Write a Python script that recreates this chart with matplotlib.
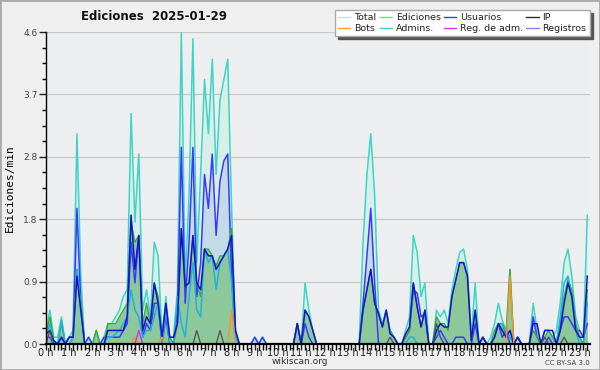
import matplotlib
matplotlib.use("Agg")
import matplotlib.pyplot as plt
from matplotlib.lines import Line2D
from matplotlib.ticker import MultipleLocator, FixedLocator
import numpy as np

# 10-minute samples, 00:00 .. 23:20 (edits per minute)
total = [0.2, 0.5, 0.1, 0.1, 0.4, 0.0,
         0.1, 0.2, 3.1, 1.0, 0.0, 0.1,
         0.0, 0.2, 0.0, 0.1, 0.3, 0.3,
         0.4, 0.5, 0.7, 0.8, 3.4, 1.8,
         2.8, 0.5, 0.8, 0.4, 1.5, 1.3,
         0.1, 0.7, 0.1, 0.1, 0.8, 4.6,
         0.9, 2.2, 4.5, 1.2, 2.5, 3.9,
         3.1, 4.2, 2.5, 3.6, 3.9, 4.2,
         2.0, 0.2, 0.0, 0.0, 0.0, 0.0,
         0.1, 0.0, 0.1, 0.0, 0.0, 0.0,
         0.0, 0.0, 0.0, 0.0, 0.0, 0.3,
         0.0, 0.9, 0.5, 0.2, 0.0, 0.0,
         0.0, 0.0, 0.0, 0.0, 0.0, 0.0,
         0.0, 0.0, 0.0, 0.0, 1.5, 2.5,
         3.1, 2.2, 0.5, 0.3, 0.5, 0.2,
         0.1, 0.0, 0.0, 0.2, 0.4, 1.6,
         1.35, 0.7, 0.9, 0.0, 0.0, 0.5,
         0.4, 0.5, 0.3, 0.8, 1.1, 1.35,
         1.4, 1.1, 0.1, 0.9, 0.0, 0.1,
         0.0, 0.1, 0.3, 0.6, 0.35, 0.2,
         1.1, 0.0, 0.1, 0.0, 0.0, 0.0,
         0.6, 0.2, 0.0, 0.2, 0.2, 0.1,
         0.2, 0.6, 1.2, 1.4, 1.0, 0.4,
         0.2, 0.1, 1.9]

registros = [0.1, 0.1, 0.0, 0.0, 0.1, 0.0,
             0.1, 0.1, 2.0, 0.6, 0.0, 0.1,
             0.0, 0.0, 0.0, 0.1, 0.1, 0.1,
             0.1, 0.1, 0.2, 0.3, 1.5, 0.9,
             1.6, 0.1, 0.3, 0.2, 0.6, 0.6,
             0.0, 0.4, 0.0, 0.0, 0.5, 2.9,
             0.6, 1.5, 2.9, 0.7, 1.2, 2.5,
             2.0, 2.8, 1.6, 2.4, 2.7, 2.8,
             1.0, 0.1, 0.0, 0.0, 0.0, 0.0,
             0.1, 0.0, 0.1, 0.0, 0.0, 0.0,
             0.0, 0.0, 0.0, 0.0, 0.0, 0.3,
             0.0, 0.3, 0.1, 0.0, 0.0, 0.0,
             0.0, 0.0, 0.0, 0.0, 0.0, 0.0,
             0.0, 0.0, 0.0, 0.0, 0.6, 1.3,
             2.0, 0.9, 0.0, 0.0, 0.0, 0.0,
             0.0, 0.0, 0.0, 0.1, 0.2, 0.8,
             0.75, 0.4, 0.45, 0.0, 0.0, 0.1,
             0.2, 0.1, 0.0, 0.0, 0.1, 0.1,
             0.1, 0.0, 0.0, 0.3, 0.0, 0.1,
             0.0, 0.0, 0.1, 0.3, 0.1, 0.2,
             0.0, 0.0, 0.1, 0.0, 0.0, 0.0,
             0.4, 0.1, 0.0, 0.0, 0.1, 0.0,
             0.0, 0.2, 0.4, 0.4, 0.3, 0.2,
             0.2, 0.1, 0.3]

usuarios = [0.15, 0.2, 0.05, 0.0, 0.1, 0.0,
            0.1, 0.1, 1.0, 0.5, 0.0, 0.0,
            0.0, 0.0, 0.0, 0.0, 0.2, 0.2,
            0.2, 0.2, 0.2, 0.4, 1.9, 1.1,
            1.6, 0.2, 0.4, 0.3, 0.9, 0.6,
            0.1, 0.6, 0.1, 0.1, 0.3, 1.7,
            0.85, 0.9, 1.6, 0.9, 0.8, 1.4,
            1.3, 1.3, 1.1, 1.2, 1.3, 1.4,
            1.6, 0.2, 0.0, 0.0, 0.0, 0.0,
            0.0, 0.0, 0.0, 0.0, 0.0, 0.0,
            0.0, 0.0, 0.0, 0.0, 0.0, 0.3,
            0.0, 0.5, 0.4, 0.2, 0.0, 0.0,
            0.0, 0.0, 0.0, 0.0, 0.0, 0.0,
            0.0, 0.0, 0.0, 0.0, 0.5, 0.8,
            1.1, 0.6, 0.45, 0.25, 0.5, 0.15,
            0.1, 0.0, 0.0, 0.15, 0.25, 0.9,
            0.55, 0.25, 0.5, 0.0, 0.0, 0.2,
            0.3, 0.25, 0.25, 0.7, 0.95, 1.2,
            1.2, 1.0, 0.05, 0.5, 0.0, 0.1,
            0.0, 0.0, 0.1, 0.3, 0.2, 0.1,
            0.2, 0.0, 0.1, 0.0, 0.0, 0.0,
            0.3, 0.3, 0.0, 0.2, 0.2, 0.2,
            0.0, 0.2, 0.6, 0.9, 0.7, 0.2,
            0.1, 0.1, 1.0]

ediciones = [0.15, 0.4, 0.05, 0.0, 0.3, 0.0,
             0.0, 0.1, 1.1, 0.6, 0.0, 0.0,
             0.0, 0.2, 0.0, 0.0, 0.3, 0.3,
             0.3, 0.4, 0.5, 0.6, 1.8, 1.5,
             1.6, 0.3, 0.6, 0.3, 0.9, 0.7,
             0.1, 0.6, 0.1, 0.0, 0.3, 1.7,
             0.85, 0.9, 1.6, 0.9, 0.7, 1.4,
             1.4, 1.3, 1.15, 1.3, 1.3, 1.4,
             1.7, 0.2, 0.0, 0.0, 0.0, 0.0,
             0.0, 0.0, 0.0, 0.0, 0.0, 0.0,
             0.0, 0.0, 0.0, 0.0, 0.0, 0.3,
             0.0, 0.5, 0.4, 0.2, 0.0, 0.0,
             0.0, 0.0, 0.0, 0.0, 0.0, 0.0,
             0.0, 0.0, 0.0, 0.0, 0.5, 0.8,
             1.1, 0.6, 0.45, 0.25, 0.5, 0.2,
             0.1, 0.0, 0.0, 0.1, 0.2, 0.9,
             0.55, 0.25, 0.5, 0.0, 0.0, 0.4,
             0.3, 0.3, 0.2, 0.7, 0.95, 1.2,
             1.2, 1.0, 0.05, 0.5, 0.0, 0.0,
             0.0, 0.0, 0.2, 0.3, 0.3, 0.1,
             1.1, 0.0, 0.0, 0.0, 0.0, 0.0,
             0.2, 0.1, 0.0, 0.1, 0.2, 0.1,
             0.0, 0.3, 0.7, 0.95, 0.8, 0.3,
             0.1, 0.0, 0.8]

admins = [0.1, 0.3, 0.0, 0.0, 0.35, 0.0,
          0.0, 0.1, 1.1, 0.5, 0.0, 0.0,
          0.0, 0.0, 0.0, 0.0, 0.1, 0.1,
          0.15, 0.2, 0.3, 0.4, 0.8, 0.5,
          0.4, 0.1, 0.2, 0.2, 0.4, 0.6,
          0.0, 0.5, 0.0, 0.0, 0.7, 0.3,
          0.1, 0.7, 1.2, 0.5, 0.4, 1.4,
          1.2, 1.3, 0.8, 1.2, 1.3, 1.4,
          0.9, 0.1, 0.0, 0.0, 0.0, 0.0,
          0.0, 0.0, 0.0, 0.0, 0.0, 0.0,
          0.0, 0.0, 0.0, 0.0, 0.0, 0.0,
          0.0, 0.0, 0.0, 0.0, 0.0, 0.0,
          0.0, 0.0, 0.0, 0.0, 0.0, 0.0,
          0.0, 0.0, 0.0, 0.0, 0.0, 0.0,
          0.0, 0.0, 0.0, 0.0, 0.0, 0.0,
          0.0, 0.0, 0.0, 0.0, 0.1, 0.1,
          0.0, 0.0, 0.0, 0.0, 0.0, 0.2,
          0.1, 0.0, 0.0, 0.0, 0.0, 0.0,
          0.0, 0.0, 0.0, 0.0, 0.0, 0.0,
          0.0, 0.0, 0.1, 0.3, 0.3, 0.2,
          0.1, 0.0, 0.0, 0.0, 0.0, 0.0,
          0.0, 0.0, 0.0, 0.0, 0.0, 0.0,
          0.0, 0.4, 0.9, 1.0, 0.7, 0.2,
          0.0, 0.0, 0.6]

ip = [0.0] * 141
for k, v in {1: 0.2, 39: 0.2, 45: 0.2, 89: 0.1, 101: 0.3, 102: 0.1,
             129: 0.1, 134: 0.1}.items():
    ip[k] = v

bots = [0.0] * 141
for k, v in {23: 0.1, 30: 0.1, 48: 0.5, 120: 1.0}.items():
    bots[k] = v

reg_adm = [0.0] * 141
for k, v in {24: 0.2}.items():
    reg_adm[k] = v

hours = np.arange(len(total)) / 6.0
hour_labels = ["%d h" % h for h in range(24)]
# column-wise order so the two legend rows read like the original
legend_names = ["Total", "Bots", "Ediciones", "Admins.",
                "Usuarios", "Reg. de adm.", "IP", "Registros"]
legend_colors = ["#aee6e2", "#ffa030", "#8ccf90", "#40c8e0",
                 "#3c3cf0", "#d040e0", "#303030", "#8080ff"]

fig = plt.figure(figsize=(6, 3.7), dpi=100, facecolor="#efefef")
ax = fig.add_axes([46 / 600, 26 / 370, 544 / 600, 312 / 370])
ax.set_facecolor("#eceef0")

ax.fill_between(hours, total, color="#d6efe9", lw=0)
ax.fill_between(hours, registros, color="#c3dbe6", lw=0)
ax.fill_between(hours, ediciones, color="#8dc89b", lw=0)

ax.plot(hours, total, color="#3fd4c4", lw=1.1)
ax.plot(hours, registros, color="#3a3aff", lw=1.1)
ax.plot(hours, ediciones, color="#3aaa3a", lw=1.0)
ax.plot(hours, admins, color="#22b0e0", lw=1.1)
ax.plot(hours, usuarios, color="#1414c8", lw=1.1)
ax.plot(hours, ip, color="#505050", lw=0.9)
ax.plot(hours, bots, color="#ff9020", lw=1.0)
ax.plot(hours, reg_adm, color="#cc33dd", lw=1.0)

ax.set_xlim(0, 23.45)
ax.set_ylim(0, 4.6)
ax.xaxis.set_major_locator(FixedLocator(range(24)))
ax.set_xticklabels(hour_labels)
ax.xaxis.set_minor_locator(MultipleLocator(1 / 6))
yt = [0, 0.92, 1.84, 2.76, 3.68, 4.6]
ax.yaxis.set_major_locator(FixedLocator(yt))
ax.set_yticklabels(["0.0", "0.9", "1.8", "2.8", "3.7", "4.6"])
ax.yaxis.set_minor_locator(MultipleLocator(0.23))
ax.grid(axis="y", color="#c8c8c8", lw=0.9)
ax.set_axisbelow(True)

for s in ["top", "right"]:
    ax.spines[s].set_visible(False)
ax.spines["left"].set_linewidth(1.0)
ax.spines["bottom"].set_linewidth(1.6)
ax.tick_params(axis="x", which="major", length=4, width=1, labelsize=7,
               pad=-1, colors="#222222")
ax.tick_params(axis="x", which="minor", length=4, width=1)
ax.tick_params(axis="y", which="major", length=5, width=1, labelsize=6.5,
               pad=1, colors="#222222")
ax.tick_params(axis="y", which="minor", length=3, width=1)
for lab in ax.get_yticklabels():
    lab.set_color("#444444")

ax.set_ylabel("Ediciones/min", family="DejaVu Sans Mono", fontsize=8,
              labelpad=6)

fig.text(0.257, 0.955, "Ediciones  2025-01-29", fontsize=8.5,
         fontweight="bold", ha="center", va="center", color="#111111")
fig.text(0.5, 0.022, "wikiscan.org", fontsize=6.5, ha="center",
         va="center", color="#333333")
fig.text(0.983, 0.02, "CC BY-SA 3.0", fontsize=5, ha="right",
         va="center", color="#444444")

handles = [Line2D([], [], color=c, lw=1) for c in legend_colors]
leg = fig.legend(handles, legend_names, ncol=4, loc="upper right",
                 bbox_to_anchor=(0.983, 0.973), fontsize=6.8, frameon=True,
                 fancybox=False, shadow={"color": "#555555", "alpha": 1},
                 handlelength=1.3, handletextpad=0.4, columnspacing=0.35,
                 labelspacing=0.2, borderpad=0.35, borderaxespad=0,
                 edgecolor="#aaaaaa")
leg.get_frame().set_facecolor("white")
for t in leg.get_texts():
    t.set_color("#222222")

fig.patches.append(plt.Rectangle((0, 0), 1, 1, transform=fig.transFigure,
                                 fill=False, edgecolor="#aaaaaa", lw=2))

fig.savefig("out.png", dpi=100, facecolor=fig.get_facecolor())
